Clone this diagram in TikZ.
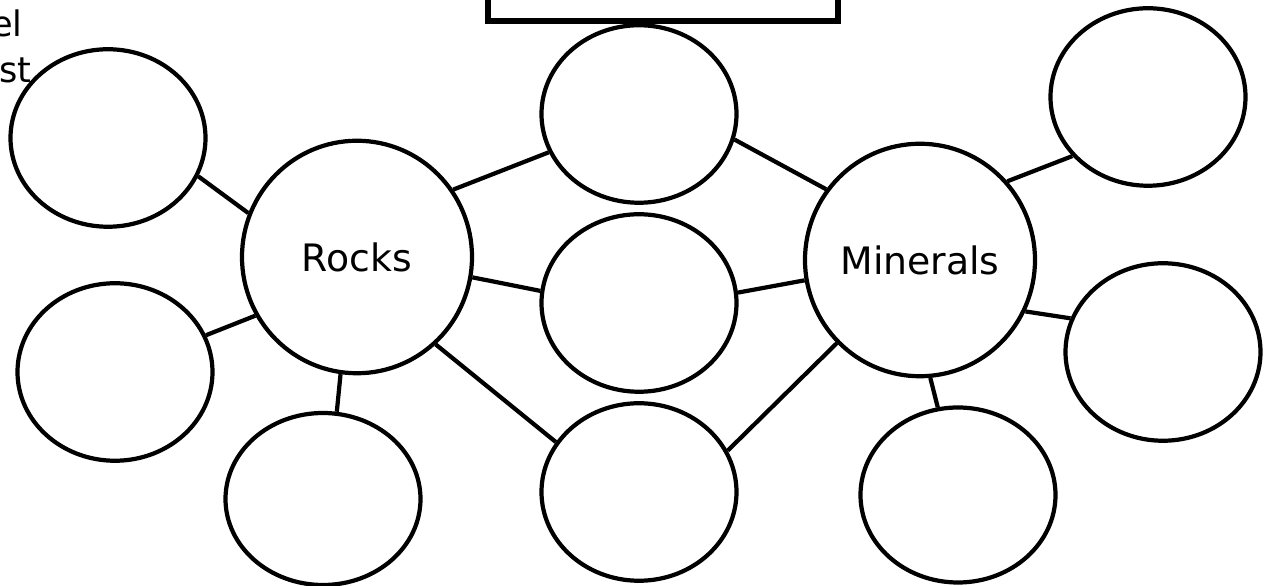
\documentclass[tikz,border=0pt]{standalone}
\usepackage{fontspec}
\setmainfont{DejaVu Sans}
\usetikzlibrary{shapes.geometric}
\tikzset{
  bubble/.style={ellipse, draw, line width=2.4pt, minimum width=3.9cm, minimum height=3.55cm, inner sep=0pt},
  topic/.style={bubble, minimum width=4.6cm, minimum height=4.65cm, font=\fontsize{21.5}{26}\selectfont},
  link/.style={line width=2.4pt},
  scrap/.style={inner sep=0pt, font=\fontsize{20}{24}\selectfont}
}
\begin{document}
\begin{tikzpicture}
\useasboundingbox (0,0) rectangle (25.3,11.72);
\node[draw, line width=3.2pt, minimum width=7cm, minimum height=2cm, anchor=south] (title) at (13.26,11.24) {};
\node[scrap, anchor=base east] (scrapA) at (0.46,10.98) {el};
\node[scrap, anchor=base east] (scrapB) at (0.64,10.06) {st};
\node[topic] (rocks) at (7.14,6.58) {Rocks};
\node[topic] (minerals) at (18.40,6.52) {Minerals};
\node[bubble] (rockA) at (2.16,8.96) {};
\node[bubble] (rockB) at (2.30,4.28) {};
\node[bubble, minimum height=3.44cm] (rockC) at (6.46,1.74) {};
\node[bubble] (midA) at (12.78,9.44) {};
\node[bubble] (midB) at (12.78,5.66) {};
\node[bubble] (midC) at (12.78,1.88) {};
\node[bubble] (minA) at (22.96,9.78) {};
\node[bubble] (minB) at (23.26,4.68) {};
\node[bubble, minimum height=3.5cm] (minC) at (19.16,1.82) {};
\foreach \a/\b in {rockA.-23/rocks.158, rockB.22/rocks.210, rockC.81/rocks.262,
    rocks.35/midA.203, rocks.-10/midB.173, rocks.-48/midC.149,
    midA.-15/minerals.143, midB.6/minerals.190, midC.25/minerals.225,
    minerals.42/minA.218, minerals.-26/minB.160, minerals.275/minC.103}
    \draw[link] (\a) -- (\b);
\end{tikzpicture}
\end{document}
